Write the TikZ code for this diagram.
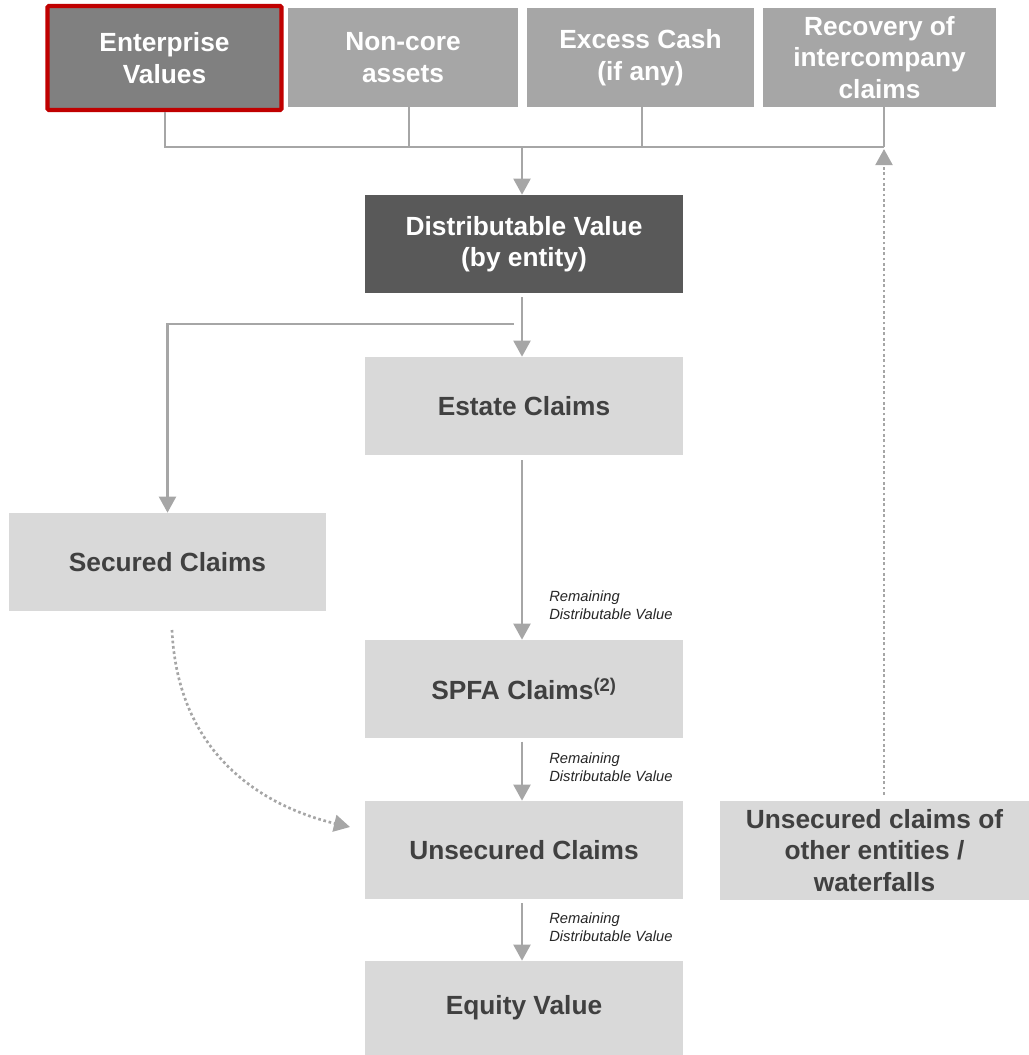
\documentclass[tikz,border=0pt]{standalone}
\usepackage{fontspec}
\setmainfont{Liberation Sans}
\usetikzlibrary{arrows.meta,positioning,calc}

\definecolor{darkfill}{HTML}{595959}
\definecolor{midfill}{HTML}{808080}
\definecolor{topfill}{HTML}{A6A6A6}
\definecolor{lightfill}{HTML}{D9D9D9}
\definecolor{textgrey}{HTML}{404040}
\definecolor{linegrey}{HTML}{A6A6A6}
\definecolor{redline}{HTML}{C00000}

\begin{document}
\begin{tikzpicture}[x=0.025cm,y=-0.025cm,
  box/.style={fill=lightfill,text=textgrey,inner sep=0pt,align=center,
    font=\bfseries\fontsize{18.7}{22.4}\selectfont,
    minimum width=7.95cm,minimum height=2.45cm},
  topbox/.style={box,fill=topfill,text=white,minimum height=2.475cm},
  note/.style={anchor=west,align=left,inner sep=0pt,text=black!85,
    font=\itshape\fontsize{10.5}{12.8}\selectfont},
  conn/.style={draw=linegrey,line width=1.9pt},
  arr/.style={conn,-{Triangle[width=0.42cm,length=0.4cm]}},
  dotarr/.style={arr,dash pattern=on 1.9pt off 1.9pt}]

\useasboundingbox (0,0) rectangle (1029,1055);

% top row
\node[topbox,fill=midfill,draw=redline,line width=3pt,rounded corners=1pt,
  minimum width=5.85cm,minimum height=2.6cm] (ent) at (164.5,58) {Enterprise\\Values};
\node[topbox,minimum width=5.75cm] (nca) at (403,57.5) {Non-core\\assets};
\node[topbox,minimum width=5.675cm] (cash) at (640.5,57.5) {Excess Cash\\(if any)};
\node[topbox,minimum width=5.825cm] (rec) at (879.5,57.5) {Recovery of\\intercompany\\claims};

% main column
\node[box,fill=darkfill,text=white] (dist) at (524,244) {Distributable Value\\(by entity)};
\node[box] (estate) at (524,406) {Estate Claims};
\node[box,minimum width=7.925cm] (sec) at (167.5,562) {Secured Claims};
\node[box] (spfa) at (524,689) {SPFA Claims\textsuperscript{(2)}};
\node[box] (unsec) at (524,850) {Unsecured Claims};
\node[box,minimum width=7.725cm,minimum height=2.475cm] (other) at (874.5,850.5)
  {Unsecured claims of\\other entities /\\waterfalls};
\node[box,minimum height=2.35cm] (eq) at (524,1008) {Equity Value};

% collecting line
\coordinate (busl) at (165,147);
\coordinate (ic) at (884,147);
\coordinate (mid) at (522,147);
\draw[conn] (ent.south -| busl) -- (busl) -- (ic);
\draw[conn] (409,107) coordinate (ncx) -- (ncx |- busl);
\draw[conn] (642,107) coordinate (cx) -- (cx |- busl);
\draw[conn] (rec.south -| ic) -- (ic);
\draw[arr] (mid) -- (dist.north -| mid);

% flow down
\coordinate (split) at (514,324);
\draw[arr] ([yshift=-0.1cm]dist.south -| mid) -- (estate.north -| mid);
\draw[arr] (split) -| (sec.north);
\draw[arr] ([yshift=-0.12cm]estate.south -| mid) -- (spfa.north -| mid);
\draw[arr] ([yshift=-0.08cm]spfa.south -| mid) -- (unsec.north -| mid);
\draw[arr] ([yshift=-0.1cm]unsec.south -| mid) -- (eq.north -| mid);

\node[note] (n1) at (549,605) {Remaining\\Distributable Value};
\node[note] (n2) at (549,767) {Remaining\\Distributable Value};
\node[note] (n3) at (549,927) {Remaining\\Distributable Value};

% dotted links
\coordinate (cs) at (172,630);
\coordinate (ce) at (350,827);
\draw[dotarr] (cs) .. controls (178,760) and (270,808) .. (ce);
\draw[dotarr] ([yshift=0.15cm]other.north -| ic) -- ([yshift=-0.05cm]ic);

\end{tikzpicture}
\end{document}
